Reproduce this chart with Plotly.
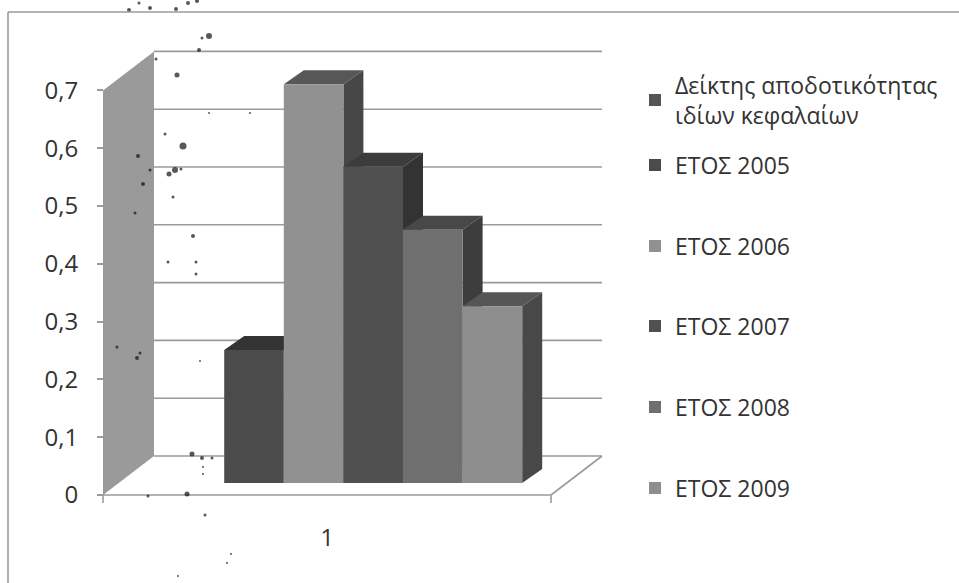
import plotly.graph_objects as go

# ---- data ----
series_names = ["Δείκτης αποδοτικότητας<br>ιδίων κεφαλαίων", "ΕΤΟΣ 2005", "ΕΤΟΣ 2006",
                "ΕΤΟΣ 2007", "ΕΤΟΣ 2008", "ΕΤΟΣ 2009"]
series_values = [None, 0.23, 0.69, 0.547, 0.438, 0.306]
y_ticks = [0, 0.1, 0.2, 0.3, 0.4, 0.5, 0.6, 0.7]
y_tick_labels = ["0", "0,1", "0,2", "0,3", "0,4", "0,5", "0,6", "0,7"]
category_labels = ["1"]

# ---- styles ----
front_colors = ["#555555", "#4b4b4b", "#919191", "#505050", "#6f6f6f", "#8e8e8e"]
top_colors = ["#444444", "#333333", "#575757", "#3c3c3c", "#484848", "#565656"]
side_colors = ["#444444", "#3a3a3a", "#474747", "#333333", "#3d3d3d", "#484848"]
legend_y_px = [100, 165, 246, 326, 407, 488]
FONT = "Open Sans"
LEGEND_SIZE = 23
TICK_SIZE = 24
W, H = 959, 583

# axis geometry: one bar is one x unit, values are y units
PX_PER_X, X0_PX = 59.6, 254.0
PX_PER_Y, Y0_PX = 578.0, 495.0
x_range = [-X0_PX / PX_PER_X, (W - X0_PX) / PX_PER_X]
y_range = [(Y0_PX - H) / PX_PER_Y, Y0_PX / PX_PER_Y]
FLOOR_L, FLOOR_R = (103 - X0_PX) / PX_PER_X, (551 - X0_PX) / PX_PER_X
BACK_DX, BACK_DY = 51 / PX_PER_X, 39 / PX_PER_Y      # depth of the chart box
BAR_DX, BAR_DY = 20 / PX_PER_X, 14 / PX_PER_Y        # depth of one bar
BAR_BASE = 12 / PX_PER_Y                             # bars stand in from the front edge
AXIS_GREY = "#9b9b9b"

fig = go.Figure()


def poly(xs, ys, color):
    fig.add_trace(go.Scatter(x=xs, y=ys, fill="toself", fillcolor=color, mode="lines",
                             line=dict(width=0, color=color), showlegend=False, hoverinfo="skip"))


# back-wall gridlines
for t in y_ticks:
    fig.add_trace(go.Scatter(x=[FLOOR_L + BACK_DX, FLOOR_R + BACK_DX], y=[t + BACK_DY] * 2, mode="lines",
                             line=dict(color=AXIS_GREY, width=1.6), showlegend=False, hoverinfo="skip"))
# side wall
top = y_ticks[-1]
poly([FLOOR_L, FLOOR_L + BACK_DX, FLOOR_L + BACK_DX, FLOOR_L, FLOOR_L],
     [0, BACK_DY, top + BACK_DY, top, 0], "#9a9a9a")
# floor outline with the two end ticks
fig.add_trace(go.Scatter(
    x=[FLOOR_L, FLOOR_L, None, FLOOR_L, FLOOR_R, FLOOR_R, None, FLOOR_R, FLOOR_R + BACK_DX],
    y=[-0.014, 0, None, 0, 0, -0.014, None, 0, BACK_DY],
    mode="lines", line=dict(color=AXIS_GREY, width=1.6), showlegend=False, hoverinfo="skip"))

# depth faces of the bars, left to right
positions = [None if v is None else i - 1 for i, v in enumerate(series_values)]
for v, p, tc, sc in zip(series_values, positions, top_colors, side_colors):
    if v is None:
        continue
    l, r = p - 0.5, p + 0.5
    y0, y1 = BAR_BASE, BAR_BASE + v
    poly([r, r + BAR_DX, r + BAR_DX, r, r], [y0, y0 + BAR_DY, y1 + BAR_DY, y1, y0], sc)
    poly([l, l + BAR_DX, r + BAR_DX, r, l], [y1, y1 + BAR_DY, y1 + BAR_DY, y1, y1], tc)

# front faces (drawn on an overlay so they cover every depth face) and legend entries
for i, (name, v, p, c) in enumerate(zip(series_names, series_values, positions, front_colors)):
    fig.add_trace(go.Bar(x=[p if p is not None else 0], y=[v], base=BAR_BASE, width=1, name=name,
                         marker=dict(color=c, line=dict(width=0)), xaxis="x2", yaxis="y2",
                         legend="legend" if i == 0 else f"legend{i + 1}"))

# scan specks
speck_x = [129, 139, 150, 176, 188, 197, 202, 209, 199, 156, 177, 165, 183, 138, 175, 169, 181, 150, 143, 173,
           135, 193, 168, 196, 196, 117, 140, 137, 200, 192, 202, 212, 187, 148, 205, 231, 227, 178, 203, 203,
           209, 250]
speck_y = [10, 3, 8, 9, 3, 1, 38, 36, 50, 59, 75, 134, 146, 156, 170, 174, 169, 170, 184, 197,
           213, 236, 262, 262, 274, 347, 353, 358, 361, 454, 458, 458, 494, 496, 515, 554, 563, 576, 467, 474,
           113, 113]
speck_s = [4, 3, 4, 4, 4, 4, 3, 6, 4, 3, 5, 3, 7, 4, 6, 5, 3, 3, 4, 3,
           3, 4, 3, 3, 3, 3, 3, 4, 2, 5, 4, 3, 5, 3, 3, 2, 2, 2, 2, 2,
           2, 2]
fig.add_trace(go.Scatter(x=speck_x, y=speck_y, mode="markers", xaxis="x3", yaxis="y3",
                         marker=dict(color="#111111", size=speck_s, line=dict(width=0)),
                         showlegend=False, hoverinfo="skip"))

layout = dict(
    width=W, height=H, margin=dict(l=0, r=0, t=0, b=0), paper_bgcolor="white", plot_bgcolor="white",
    barmode="overlay",
    font=dict(family=FONT, size=LEGEND_SIZE, color="#333333"),
    xaxis=dict(range=x_range, showgrid=False, zeroline=False, showline=False, ticks="",
               tickvals=[(FLOOR_L + FLOOR_R) / 2], ticktext=category_labels,
               anchor="free", position=(H - Y0_PX) / H,
               ticklabelstandoff=26, tickfont=dict(family=FONT, size=TICK_SIZE, color="#333333")),
    yaxis=dict(range=y_range, showgrid=False, zeroline=False, showline=False,
               tickvals=y_ticks, ticktext=y_tick_labels, ticks="outside", ticklen=6, tickwidth=1.5,
               tickcolor=AXIS_GREY, anchor="free", position=103 / W, ticklabelstandoff=14,
               tickfont=dict(family=FONT, size=TICK_SIZE, color="#333333")),
    xaxis2=dict(range=x_range, overlaying="x", visible=False, fixedrange=True),
    yaxis2=dict(range=y_range, overlaying="y", visible=False, fixedrange=True),
    xaxis3=dict(range=[0, W], overlaying="x", visible=False, fixedrange=True),
    yaxis3=dict(range=[H, 0], overlaying="y", visible=False, fixedrange=True),
    shapes=[dict(type="line", xref="paper", yref="paper", x0=8 / W, x1=1, y0=1 - 12 / H, y1=1 - 12 / H,
                 line=dict(color=AXIS_GREY, width=1.6)),
            dict(type="line", xref="paper", yref="paper", x0=8 / W, x1=8 / W, y0=0, y1=1 - 12 / H,
                 line=dict(color=AXIS_GREY, width=1.6))],
)
for i, ypx in enumerate(legend_y_px):
    key = "legend" if i == 0 else f"legend{i + 1}"
    layout[key] = dict(x=635 / W, xanchor="left", y=1 - ypx / H, yanchor="middle", bgcolor="rgba(0,0,0,0)",
                       borderwidth=0, itemclick=False, itemdoubleclick=False,
                       font=dict(family=FONT, size=LEGEND_SIZE, color="#333333"))
fig.update_layout(**layout)

fig.write_html("out.html", config=dict(displayModeBar=False),
               post_script="document.body.style.margin='0';")
